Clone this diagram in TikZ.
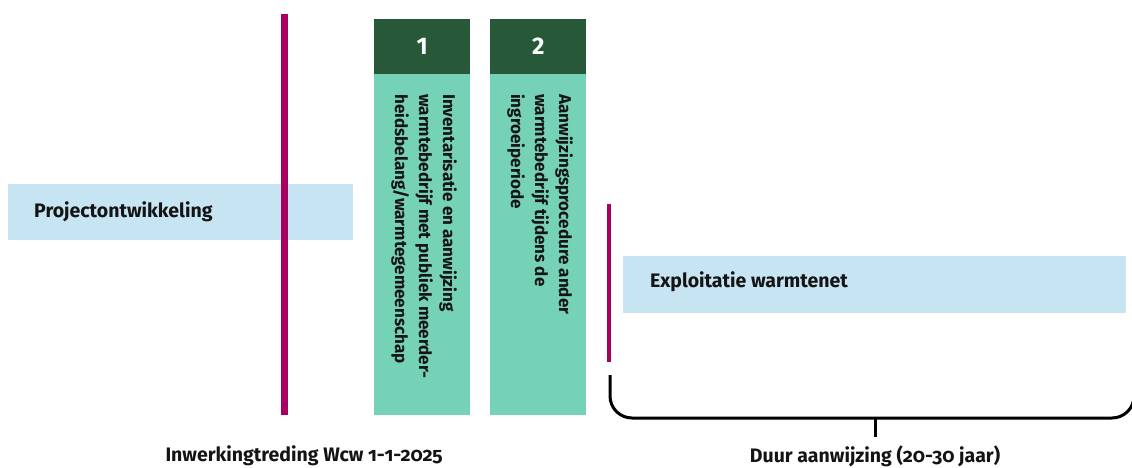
\documentclass[tikz,border=0pt]{standalone}
\usepackage{fontspec}
\setmainfont[Numbers=OldStyle]{Fira Sans}
\usetikzlibrary{calc,positioning}
\definecolor{magentaline}{RGB}{168,0,96}
\definecolor{lightblue}{RGB}{198,228,242}
\definecolor{darkgreen}{RGB}{39,89,56}
\definecolor{lightgreen}{RGB}{118,210,182}
\definecolor{textdark}{RGB}{20,20,20}

\begin{document}
\begin{tikzpicture}[x=1pt,y=1pt]

           \tikzstyle{every node}=[text=textdark,font=\fontsize{19.5}{24}\selectfont\bfseries,inner sep=0pt]
           \tikzstyle{stephead}=[fill=darkgreen,text=white,minimum width=96pt,minimum height=55pt,anchor=north west,font=\fontsize{24}{24}\selectfont\bfseries\addfontfeatures{Numbers=Lining}]
           \tikzstyle{stepbody}=[fill=lightgreen,minimum width=96pt,minimum height=341pt,anchor=north west]
           \tikzstyle{steptext}=[rotate=-90,anchor=north west,align=left,font=\fontsize{17}{24}\selectfont\bfseries]
           \tikzstyle{marker}=[draw=magentaline,line width=7pt]

    \useasboundingbox (0,0) rectangle (1132,-468);

    % balken
    \fill[lightblue] (8,-184) rectangle (353,-240);
    \node[anchor=west] (P) at (34,-212) {Projectontwikkeling};
    \fill[lightblue] (623,-256) rectangle (1126,-313);
    \node[anchor=west] (E) at (650,-282) {Exploitatie warmtenet};

    % stappen
    \node[stepbody] (B1) at (374,-74) {};
    \node[stephead] (H1) at (374,-19) {1};
    \node[stepbody] (B2) at (490,-74) {};
    \node[stephead] (H2) at (490,-19) {2};
    \node[steptext] (T1) at (457,-94) {Inventarisatie en aanwijzing\\warmtebedrijf met publiek meerder-\\heidsbelang/warmtegemeenschap};
    \node[steptext] (T2) at (573,-94) {Aanwijzingsprocedure ander\\warmtebedrijf tijdens de\\ingroeiperiode};

    % markeringen
    \draw[marker] (284,-14) -- (284,-415);
    \draw[marker,line width=4pt] (609,-204) -- (609,-362);

    % labels
    \node (L1) at (304,-456) {Inwerkingtreding Wcw 1-1-2025};
    \node (L2) at (875,-456) {Duur aanwijzing (20-30 jaar)};

    \coordinate (BS) at (610,-375);
    \coordinate (BM) at (875,-418);
    \draw[line width=3pt,rounded corners=22pt] (BS) -- (610,-418) -- (1134,-418) -- (1134,-390);
    \draw[line width=3pt] (BM) -- (875,-437);

\end{tikzpicture}
\end{document}
